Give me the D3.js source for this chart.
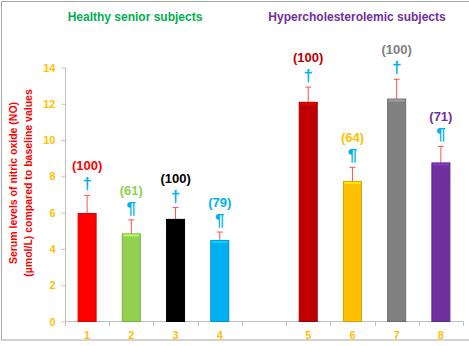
<!DOCTYPE html>
<html>
<head>
<meta charset="utf-8">
<script src="https://cdn.jsdelivr.net/npm/d3@7"></script>
<style>
  body { margin: 0; background: #fff; }
  text { font-family: "Liberation Sans", Arial, sans-serif; font-weight: bold; }
</style>
</head>
<body>
<div id="chart"></div>
<script>
// data
var slots = ["1", "2", "3", "4", "gap", "5", "6", "7", "8"];
var groups = ["1", "2", "3", "4", "5", "6", "7", "8"];
var values = [5.95, 4.83, 5.63, 4.47, 12.08, 7.72, 12.26, 8.74];
var errHigh = [6.95, 5.6, 6.28, 4.93, 12.92, 8.5, 13.35, 9.65];
var pctLabels = ["(100)", "(61)", "(100)", "(79)", "(100)", "(64)", "(100)", "(71)"];
var symbols = ["\u2020", "\u00b6", "\u2020", "\u00b6", "\u2020", "\u00b6", "\u2020", "\u00b6"];
var yTicks = [0, 2, 4, 6, 8, 10, 12, 14];

var barColors = ["#ff0000", "#92d050", "#000000", "#00b0f0", "#c00000", "#ffc000", "#808080", "#7030a0"];
var labelColors = ["#ff0000", "#92d050", "#000000", "#00b0f0", "#c00000", "#ffc000", "#808080", "#7030a0"];

var width = 469, height = 346;

var svg = d3.select("#chart").append("svg")
    .attr("width", width)
    .attr("height", height);

// outer frame
svg.append("rect")
    .attr("x", 1.5).attr("y", 1.5)
    .attr("width", 500).attr("height", 338.5)
    .attr("fill", "none")
    .attr("stroke", "#a6a6a6");

var x = d3.scaleBand().domain(slots).range([65, 463]).paddingInner(0).paddingOuter(0);
var y = d3.scaleLinear().domain([0, 14]).range([321.5, 67.5]);
var barW = 18;

// y axis
var yAxis = svg.append("g").attr("transform", "translate(65.5,0)")
    .call(d3.axisLeft(y).tickValues(yTicks).tickSize(4).tickPadding(6));
yAxis.select(".domain").attr("stroke", "#bfbfbf").attr("d", "M-0,67.5V326");
yAxis.selectAll(".tick line").attr("stroke", "#bfbfbf");
yAxis.selectAll(".tick text")
    .attr("fill", "#ffc000")
    .style("font-size", "11px")
    .style("font-family", "'Liberation Sans', Arial, sans-serif")
    .style("font-weight", "bold");

// x axis line and boundary ticks
svg.append("line")
    .attr("x1", 65).attr("x2", 463)
    .attr("y1", 321.5).attr("y2", 321.5)
    .attr("stroke", "#bfbfbf");
svg.selectAll("line.xtick")
    .data(slots.slice(1).concat(["end"]))
    .enter().append("line")
    .attr("class", "xtick")
    .attr("x1", function(d, i) { return Math.round(65 + x.step() * (i + 1)) + 0.5; })
    .attr("x2", function(d, i) { return Math.round(65 + x.step() * (i + 1)) + 0.5; })
    .attr("y1", 321.5).attr("y2", 326)
    .attr("stroke", "#bfbfbf");

// x tick labels
svg.selectAll("text.xlab")
    .data(groups)
    .enter().append("text")
    .attr("class", "xlab")
    .attr("x", function(d) { return x(d) + x.bandwidth() / 2; })
    .attr("y", 339)
    .attr("text-anchor", "middle")
    .attr("fill", "#ffc000")
    .style("font-size", "11px")
    .text(function(d) { return d; });

// error bars (upper only)
var err = svg.selectAll("g.err")
    .data(groups)
    .enter().append("g")
    .attr("class", "err");
err.append("line")
    .attr("x1", function(d) { return x(d) + x.bandwidth() / 2; })
    .attr("x2", function(d) { return x(d) + x.bandwidth() / 2; })
    .attr("y1", function(d, i) { return y(values[i]); })
    .attr("y2", function(d, i) { return y(errHigh[i]); })
    .attr("stroke", "#ff5050").attr("stroke-width", 1);
err.append("line")
    .attr("x1", function(d) { return x(d) + x.bandwidth() / 2 - 3; })
    .attr("x2", function(d) { return x(d) + x.bandwidth() / 2 + 3; })
    .attr("y1", function(d, i) { return y(errHigh[i]); })
    .attr("y2", function(d, i) { return y(errHigh[i]); })
    .attr("stroke", "#ff5050").attr("stroke-width", 1);

// bars
var bars = svg.selectAll("g.bar")
    .data(groups)
    .enter().append("g")
    .attr("class", "bar");
bars.append("rect")
    .attr("x", function(d) { return x(d) + x.bandwidth() / 2 - barW / 2; })
    .attr("y", function(d, i) { return y(values[i]); })
    .attr("width", barW)
    .attr("height", function(d, i) { return y(0) - y(values[i]); })
    .attr("fill", function(d, i) { return barColors[i]; })
    .attr("stroke", function(d, i) { return d3.color(barColors[i]).darker(0.5); })
    .attr("stroke-width", 1);
// bevel highlight along the top
bars.append("rect")
    .attr("x", function(d) { return x(d) + x.bandwidth() / 2 - barW / 2 + 1; })
    .attr("y", function(d, i) { return y(values[i]) + 0.5; })
    .attr("width", barW - 2)
    .attr("height", 2)
    .attr("fill", function(d, i) { return d3.color(barColors[i]).brighter(0.6); });

// percentage labels and significance symbols
svg.selectAll("text.pct")
    .data(groups)
    .enter().append("text")
    .attr("class", "pct")
    .attr("x", function(d) { return x(d) + x.bandwidth() / 2; })
    .attr("y", function(d, i) { return y(errHigh[i]) - 25; })
    .attr("text-anchor", "middle")
    .attr("fill", function(d, i) { return labelColors[i]; })
    .style("font-size", "13px")
    .text(function(d, i) { return pctLabels[i]; });

svg.selectAll("text.sym")
    .data(groups)
    .enter().append("text")
    .attr("class", "sym")
    .attr("x", function(d) { return x(d) + x.bandwidth() / 2; })
    .attr("y", function(d, i) { return y(errHigh[i]) - 6; })
    .attr("text-anchor", "middle")
    .attr("fill", "#00b0f0")
    .style("font-size", "17px")
    .text(function(d, i) { return symbols[i]; });

// group titles
svg.append("text")
    .attr("x", 135).attr("y", 21)
    .attr("text-anchor", "middle")
    .attr("fill", "#00b050")
    .style("font-size", "12px")
    .text("Healthy senior subjects");
svg.append("text")
    .attr("x", 357).attr("y", 21)
    .attr("text-anchor", "middle")
    .attr("fill", "#7030a0")
    .style("font-size", "12px")
    .text("Hypercholesterolemic subjects");

// y axis title
var yt = svg.append("text")
    .attr("transform", "translate(17,183) rotate(-90)")
    .attr("text-anchor", "middle")
    .attr("fill", "#ff0000")
    .style("font-size", "10.5px");
yt.append("tspan").attr("x", 0).attr("dy", 0).text("Serum levels of nitric oxide (NO)");
yt.append("tspan").attr("x", 0).attr("dy", 15).text("(\u00b5mol/L) compared to baseline values");
</script>
</body>
</html>
